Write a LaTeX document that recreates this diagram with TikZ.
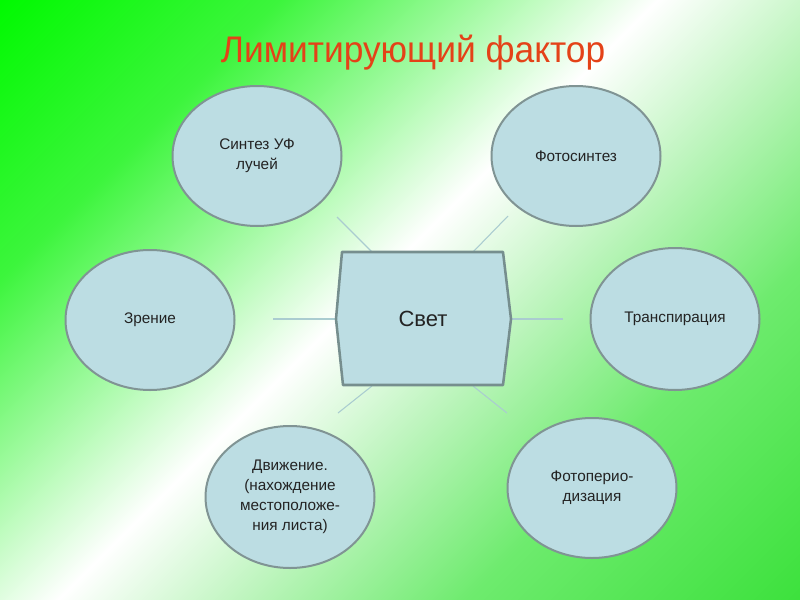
\documentclass[tikz,border=0pt]{standalone}
\usepackage{fontspec}
\setmainfont{Liberation Sans}
\usetikzlibrary{shapes.geometric}
\definecolor{bgA}{RGB}{0,250,0}
\definecolor{bgB}{RGB}{60,245,60}
\definecolor{bgC}{RGB}{160,250,160}
\definecolor{bgW}{RGB}{255,255,255}
\definecolor{bgD}{RGB}{190,245,190}
\definecolor{bgE}{RGB}{110,235,110}
\definecolor{bgF}{RGB}{60,225,60}
\definecolor{ellfill}{RGB}{188,221,227}
\definecolor{ellborder}{RGB}{128,148,148}
\definecolor{boxborder}{RGB}{118,142,142}
\definecolor{connc}{RGB}{170,204,208}
\definecolor{txt}{RGB}{35,35,35}
\definecolor{titlec}{RGB}{228,66,24}
\pgfdeclarehorizontalshading{bgshade}{100bp}{color(0bp)=(bgA); color(25bp)=(bgA); color(35bp)=(bgB); color(42bp)=(bgC); color(48.5bp)=(bgW); color(55bp)=(bgD); color(63bp)=(bgE); color(75bp)=(bgF); color(100bp)=(bgF)}
\begin{document}
\begin{tikzpicture}[x=0.75pt, y=-0.75pt,
  bubble/.style={ellipse, draw=ellborder, line width=1.5pt, fill=ellfill,
    minimum width=126.75pt, minimum height=105pt, inner sep=0pt, align=center,
    text=txt, font=\fontsize{11.5}{15}\selectfont},
  centerbox/.style={draw=boxborder, line width=1.9pt, fill=ellfill, line join=round},
  conn/.style={draw=connc, line width=0.8pt},
  titlestyle/.style={text=titlec, font=\fontsize{27.75}{33}\selectfont, inner sep=0pt, anchor=base}]
\useasboundingbox (0,0) rectangle (800,600);
\begin{scope}
  \clip (0,0) rectangle (800,600);
  \shade[shading=bgshade, shading angle=-45] (-100,-200) rectangle (900,800);
\end{scope}

\node[titlestyle] (title) at (413,62) {\scalebox{0.955}[1]{Лимитирующий фактор}};

% connectors (drawn under the box)
\coordinate (b1) at (372,252); \coordinate (e1) at (337,217);
\coordinate (b2) at (473,252); \coordinate (e2) at (508,216);
\coordinate (b3) at (372,386); \coordinate (e3) at (338,413);
\coordinate (b4) at (473,386); \coordinate (e4) at (507,413);
\coordinate (b5) at (340,319); \coordinate (e5) at (273,319);
\coordinate (b6) at (508,319); \coordinate (e6) at (563,319);
\draw[conn] (b1) -- (e1);
\draw[conn] (b2) -- (e2);
\draw[conn] (b3) -- (e3);
\draw[conn] (b4) -- (e4);
\draw[conn] (b5) -- (e5);
\draw[conn] (b6) -- (e6);

% central box
\coordinate (c1) at (342,252);
\coordinate (c2) at (503,252);
\coordinate (c3) at (511,319);
\coordinate (c4) at (503,385);
\coordinate (c5) at (343,385);
\coordinate (c6) at (336,319);
\draw[centerbox] (c1) -- (c2) -- (c3) -- (c4) -- (c5) -- (c6) -- cycle;
\node[text=txt, font=\fontsize{16.5}{20}\selectfont] (light) at (423,319) {Свет};

% ellipses
\node[bubble] (uv) at (257,156) {Синтез УФ\\лучей};
\node[bubble] (photo) at (576,156) {Фотосинтез};
\node[bubble] (vision) at (150,320) {Зрение};
\node[bubble, minimum height=106.5pt] (transp) at (675,319) {Транспирация};
\node[bubble, minimum height=106.5pt] (move) at (290,497) {Движение.\\(нахождение\\местоположе-\\ния листа)};
\node[bubble] (period) at (592,488) {Фотоперио-\\дизация};
\end{tikzpicture}
\end{document}
